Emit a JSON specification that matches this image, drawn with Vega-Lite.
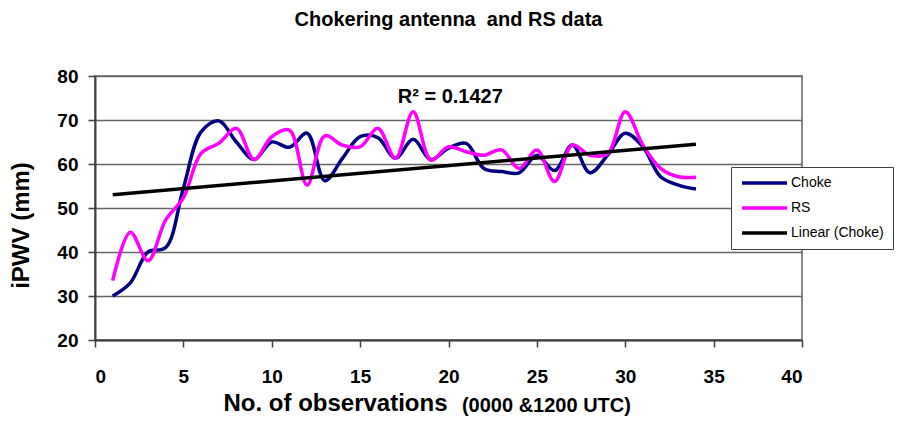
{
  "$schema": "https://vega.github.io/schema/vega-lite/v6.json",
  "width": 707,
  "height": 264,
  "autosize": {"type": "none"},
  "padding": {"left": 95, "top": 76, "right": 100, "bottom": 85},
  "background": "white",
  "title": {"text": "Chokering antenna\u00a0 and RS data", "anchor": "middle", "frame": "group", "offset": 37, "font": "Liberation Sans", "fontSize": 20, "fontWeight": "bold", "color": "black"},
  "config": {
    "view": {"stroke": "#8a8a8a", "strokeWidth": 2},
    "axis": {"labelFont": "Liberation Sans", "labelFontWeight": "bold", "labelFontSize": 19, "labelColor": "black", "titleFont": "Liberation Sans", "titleFontWeight": "bold", "titleColor": "black", "domainColor": "#404040", "domainWidth": 2, "tickColor": "#404040", "tickWidth": 1.5, "tickSize": 7}
  },
  "data": {"values": [
    {"obs": 1, "series": "Choke", "value": 30},
    {"obs": 2, "series": "Choke", "value": 33},
    {"obs": 3, "series": "Choke", "value": 40},
    {"obs": 4, "series": "Choke", "value": 41},
    {"obs": 5, "series": "Choke", "value": 54.5},
    {"obs": 6, "series": "Choke", "value": 67.3},
    {"obs": 7, "series": "Choke", "value": 69.8},
    {"obs": 8, "series": "Choke", "value": 65},
    {"obs": 9, "series": "Choke", "value": 61},
    {"obs": 10, "series": "Choke", "value": 65},
    {"obs": 11, "series": "Choke", "value": 63.8},
    {"obs": 12, "series": "Choke", "value": 67},
    {"obs": 13, "series": "Choke", "value": 56.2},
    {"obs": 14, "series": "Choke", "value": 61.3},
    {"obs": 15, "series": "Choke", "value": 66.2},
    {"obs": 16, "series": "Choke", "value": 66},
    {"obs": 17, "series": "Choke", "value": 61.3},
    {"obs": 18, "series": "Choke", "value": 65.6},
    {"obs": 19, "series": "Choke", "value": 61},
    {"obs": 20, "series": "Choke", "value": 63.6},
    {"obs": 21, "series": "Choke", "value": 64.7},
    {"obs": 22, "series": "Choke", "value": 59},
    {"obs": 23, "series": "Choke", "value": 58.3},
    {"obs": 24, "series": "Choke", "value": 58},
    {"obs": 25, "series": "Choke", "value": 62},
    {"obs": 26, "series": "Choke", "value": 58.5},
    {"obs": 27, "series": "Choke", "value": 64.3},
    {"obs": 28, "series": "Choke", "value": 58},
    {"obs": 29, "series": "Choke", "value": 62},
    {"obs": 30, "series": "Choke", "value": 67},
    {"obs": 31, "series": "Choke", "value": 63.9},
    {"obs": 32, "series": "Choke", "value": 57.1},
    {"obs": 33, "series": "Choke", "value": 55.2},
    {"obs": 34, "series": "Choke", "value": 54.3},
    {"obs": 1, "series": "RS", "value": 33.5},
    {"obs": 2, "series": "RS", "value": 44.5},
    {"obs": 3, "series": "RS", "value": 38},
    {"obs": 4, "series": "RS", "value": 47.3},
    {"obs": 5, "series": "RS", "value": 52.3},
    {"obs": 6, "series": "RS", "value": 62.4},
    {"obs": 7, "series": "RS", "value": 64.7},
    {"obs": 8, "series": "RS", "value": 68.1},
    {"obs": 9, "series": "RS", "value": 61},
    {"obs": 10, "series": "RS", "value": 66.2},
    {"obs": 11, "series": "RS", "value": 67.7},
    {"obs": 12, "series": "RS", "value": 55.2},
    {"obs": 13, "series": "RS", "value": 66.4},
    {"obs": 14, "series": "RS", "value": 64.3},
    {"obs": 15, "series": "RS", "value": 63.9},
    {"obs": 16, "series": "RS", "value": 68.1},
    {"obs": 17, "series": "RS", "value": 61.3},
    {"obs": 18, "series": "RS", "value": 71.9},
    {"obs": 19, "series": "RS", "value": 60.9},
    {"obs": 20, "series": "RS", "value": 63.9},
    {"obs": 21, "series": "RS", "value": 62.8},
    {"obs": 22, "series": "RS", "value": 62},
    {"obs": 23, "series": "RS", "value": 63.2},
    {"obs": 24, "series": "RS", "value": 59},
    {"obs": 25, "series": "RS", "value": 63.2},
    {"obs": 26, "series": "RS", "value": 56},
    {"obs": 27, "series": "RS", "value": 64.3},
    {"obs": 28, "series": "RS", "value": 62},
    {"obs": 29, "series": "RS", "value": 62.3},
    {"obs": 30, "series": "RS", "value": 71.9},
    {"obs": 31, "series": "RS", "value": 64.3},
    {"obs": 32, "series": "RS", "value": 59},
    {"obs": 33, "series": "RS", "value": 57.1},
    {"obs": 34, "series": "RS", "value": 57},
    {"obs": 1, "series": "Linear (Choke)", "value": 53.0},
    {"obs": 34, "series": "Linear (Choke)", "value": 64.5}
  ]},
  "layer": [
    {
      "mark": {"type": "line", "interpolate": "catmull-rom", "strokeWidth": 3.5},
      "encoding": {
        "x": {"field": "obs", "type": "quantitative", "scale": {"domain": [0, 40], "nice": false}, "axis": {"values": [0, 5, 10, 15, 20, 25, 30, 35, 40], "grid": false, "labelPadding": 20, "labelFontSize": 19, "title": "No. of observations", "titleFontSize": 24, "titleAlign": "left", "titleAnchor": "start", "titleX": 128, "titleY": 70, "titleBaseline": "alphabetic"}},
        "y": {"field": "value", "type": "quantitative", "scale": {"domain": [20, 80], "nice": false, "zero": false}, "axis": {"values": [20, 30, 40, 50, 60, 70, 80], "grid": true, "gridColor": "#666666", "gridWidth": 1.3, "labelPadding": 10, "title": "iPWV (mm)", "titleFontSize": 24, "titleX": -67, "titleY": 149, "titleBaseline": "alphabetic", "titleAlign": "center", "titleAngle": -90}},
        "color": {"field": "series", "type": "nominal", "scale": {"domain": ["Choke", "RS", "Linear (Choke)"], "range": ["#000080", "#ff00ff", "#000000"]},
          "legend": {"title": null, "orient": "none", "legendX": 636, "legendY": 91, "direction": "vertical", "symbolType": "M-1,0H8", "symbolSize": 100, "symbolStrokeWidth": 3.5, "symbolFillColor": "transparent", "labelOffset": 37, "labelFont": "Liberation Sans", "labelFontSize": 14, "labelColor": "black", "rowPadding": 11, "padding": 9, "strokeColor": "#404040", "fillColor": "white"}}
      }
    },
    {
      "data": {"values": [{}]},
      "mark": {"type": "text", "font": "Liberation Sans", "fontWeight": "bold", "fontSize": 20, "align": "center", "baseline": "alphabetic", "color": "black"},
      "encoding": {"x": {"datum": 20.1}, "y": {"datum": 73.9}, "text": {"value": "R² = 0.1427"}}
    },
    {
      "data": {"values": [{}]},
      "mark": {"type": "text", "font": "Liberation Sans", "fontWeight": "bold", "fontSize": 20, "align": "left", "baseline": "alphabetic", "color": "black", "clip": false},
      "encoding": {"x": {"datum": 20.76}, "y": {"datum": 3.64}, "text": {"value": "(0000 &1200 UTC)"}}
    }
  ]
}
